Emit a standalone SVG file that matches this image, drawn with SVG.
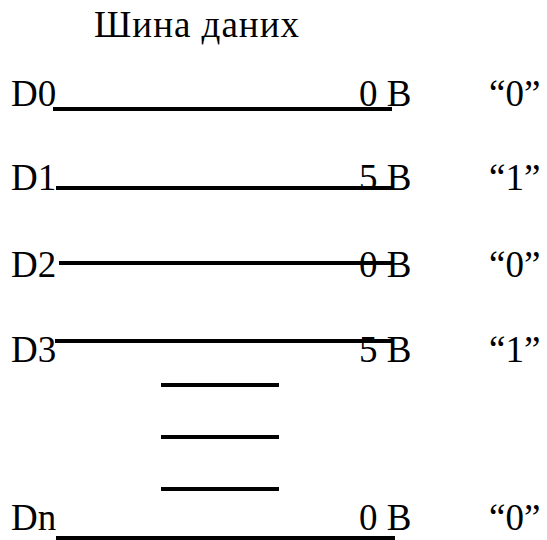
<svg xmlns="http://www.w3.org/2000/svg" width="547" height="540" viewBox="0 0 547 540">
<style>
text{font-family:"Liberation Serif","Times New Roman","DejaVu Serif",serif;font-size:37px;fill:#000}
.ln{stroke:#000;stroke-width:4;fill:none}
</style>
<rect width="547" height="540" fill="#fff"/>
<g id="title"><text x="94" y="37" letter-spacing="1">Шина даних</text></g>
<g id="d0"><text x="11" y="106">D0</text><text x="359" y="106">0 В</text><text x="489" y="106">“0”</text></g>
<g id="d1"><text x="11" y="190">D1</text><text x="359" y="190">5 В</text><text x="489" y="190">“1”</text></g>
<g id="d2"><text x="11" y="277">D2</text><text x="359" y="277">0 В</text><text x="489" y="277">“0”</text></g>
<g id="d3"><text x="11" y="362">D3</text><text x="359" y="362">5 В</text><text x="489" y="362">“1”</text></g>
<g id="dn"><text x="11" y="530">Dn</text><text x="359" y="530">0 В</text><text x="489" y="530">“0”</text></g>
<g id="connectors">
<line class="ln" x1="53" y1="109" x2="392" y2="109"/>
<line class="ln" x1="56" y1="188" x2="392" y2="188"/>
<line class="ln" x1="59" y1="263" x2="393" y2="263"/>
<line class="ln" x1="55" y1="341" x2="392" y2="341"/>
<line class="ln" x1="56" y1="538" x2="395" y2="538"/>
<line class="ln" x1="161" y1="385" x2="279" y2="385"/>
<line class="ln" x1="161" y1="437" x2="279" y2="437"/>
<line class="ln" x1="161" y1="489" x2="279" y2="489"/>
</g>
</svg>
